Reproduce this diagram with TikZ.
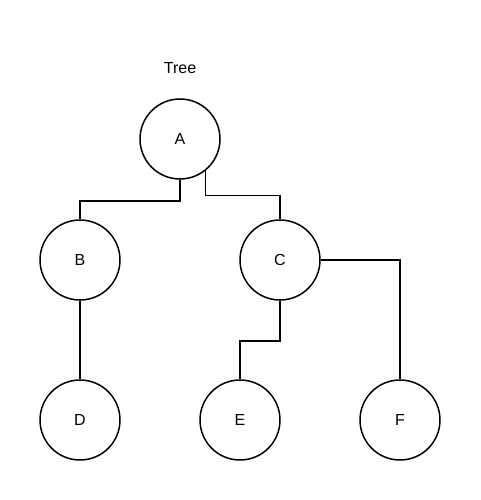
\documentclass[tikz,border=0pt]{standalone}
\usepackage{fontspec}
\setmainfont{Liberation Sans}
\usetikzlibrary{positioning, calc}

\tikzset{
  treenode/.style={circle, draw, line width=1.5pt, minimum size=80pt, inner sep=0pt, font=\fontsize{16}{19}\selectfont},
  branch/.style={line width=1.5pt}
}

\begin{document}
\begin{tikzpicture}[x=1pt, y=-1pt]
  \useasboundingbox (0,0) rectangle (480,500);

  % Title
  \node[font=\fontsize{16}{19}\selectfont] (title) at (180, 68) {Tree};

  % Nodes
  \node[treenode] (A) at (180, 139) {A};
  \node[treenode] (B) at (80, 260) {B};
  \node[treenode] (C) at (280, 260) {C};
  \node[treenode] (D) at (80, 420) {D};
  \node[treenode] (E) at (240, 420) {E};
  \node[treenode] (F) at (400, 420) {F};

  % Edges
  \draw[branch] (A.south) -- ++(0, 21) -| (B.north);
  \draw[branch] (A.-51) |- ($(C.north)+(0,-24)$) -- (C.north);
  \draw[branch] (B.south) -- (D.south |- D.north);
  \draw[branch] (C.south) -- ++(0, 40) -| (E.north);
  \draw[branch] (C.east) -| (F.north);
\end{tikzpicture}
\end{document}
